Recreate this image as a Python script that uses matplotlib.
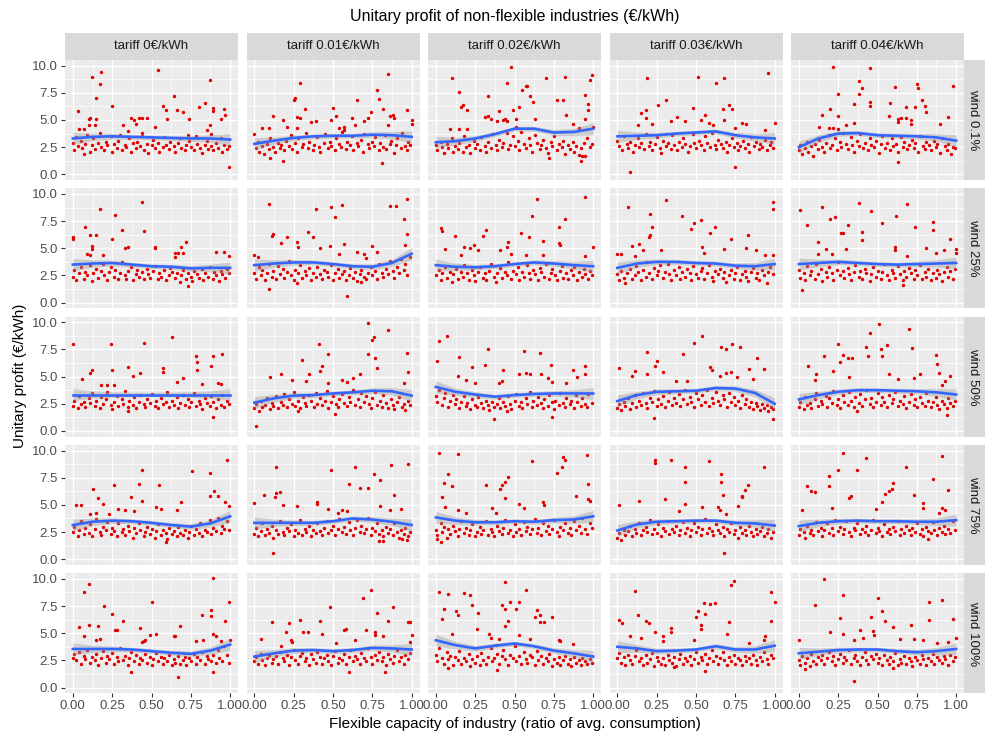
import matplotlib
matplotlib.use('Agg')
import matplotlib.pyplot as plt
import numpy as np

plt.rcParams['font.family'] = ['Liberation Sans', 'DejaVu Sans']

tariffs = ['tariff 0€/kWh', 'tariff 0.01€/kWh', 'tariff 0.02€/kWh', 'tariff 0.03€/kWh', 'tariff 0.04€/kWh']
winds = ['wind 0.1%', 'wind 25%', 'wind 50%', 'wind 75%', 'wind 100%']
x_ticks = [0.0, 0.25, 0.5, 0.75, 1.0]
x_ticklabels = ['0.00', '0.25', '0.50', '0.75', '1.00']
y_ticks = [0.0, 2.5, 5.0, 7.5, 10.0]
y_ticklabels = ['0.0', '2.5', '5.0', '7.5', '10.0']

# smoothed trend at these x positions
smooth_x = [0, 0.125, 0.25, 0.375, 0.5, 0.625, 0.75, 0.875, 1.0]
band_hw = [0.55, 0.34, 0.26, 0.22, 0.21, 0.22, 0.26, 0.34, 0.55]

smooth_w01 = [[3.3, 3.45, 3.5, 3.45, 3.4, 3.35, 3.3, 3.3, 3.2],
              [2.8, 3.1, 3.35, 3.5, 3.55, 3.55, 3.65, 3.6, 3.45],
              [2.95, 3.05, 3.3, 3.7, 4.2, 4.2, 3.85, 3.9, 4.2],
              [3.5, 3.55, 3.6, 3.75, 3.85, 3.95, 3.6, 3.4, 3.3],
              [2.5, 3.3, 3.75, 3.8, 3.6, 3.55, 3.5, 3.4, 3.1]]
smooth_w25 = [[3.5, 3.6, 3.65, 3.5, 3.35, 3.3, 3.15, 3.2, 3.2],
              [3.45, 3.6, 3.7, 3.7, 3.55, 3.35, 3.3, 3.65, 4.5],
              [3.45, 3.3, 3.25, 3.35, 3.55, 3.7, 3.6, 3.45, 3.35],
              [3.2, 3.6, 3.75, 3.75, 3.65, 3.6, 3.4, 3.35, 3.55],
              [3.55, 3.65, 3.75, 3.65, 3.55, 3.5, 3.55, 3.6, 3.65]]
smooth_w50 = [[3.35, 3.35, 3.35, 3.35, 3.35, 3.35, 3.35, 3.35, 3.35],
              [2.6, 3.0, 3.25, 3.3, 3.45, 3.55, 3.7, 3.65, 3.25],
              [4.05, 3.6, 3.35, 3.15, 3.3, 3.4, 3.45, 3.45, 3.45],
              [2.75, 3.3, 3.6, 3.65, 3.7, 3.95, 3.9, 3.5, 2.5],
              [2.9, 3.3, 3.6, 3.75, 3.75, 3.7, 3.65, 3.55, 3.35]]
smooth_w75 = [[3.15, 3.45, 3.55, 3.5, 3.35, 3.15, 3.0, 3.3, 3.95],
              [3.35, 3.35, 3.35, 3.35, 3.5, 3.75, 3.65, 3.45, 3.15],
              [3.85, 3.55, 3.4, 3.4, 3.5, 3.45, 3.6, 3.65, 3.95],
              [2.65, 3.2, 3.45, 3.5, 3.55, 3.55, 3.35, 3.3, 3.1],
              [3.05, 3.35, 3.5, 3.55, 3.5, 3.5, 3.45, 3.45, 3.6]]
smooth_w100 = [[3.55, 3.55, 3.55, 3.5, 3.35, 3.2, 3.1, 3.4, 3.95],
               [2.85, 3.15, 3.4, 3.45, 3.35, 3.45, 3.65, 3.6, 3.5],
               [4.35, 3.9, 3.6, 3.85, 4.05, 3.8, 3.4, 3.15, 2.85],
               [3.75, 3.6, 3.35, 3.4, 3.5, 3.8, 3.5, 3.5, 3.85],
               [3.15, 3.3, 3.45, 3.5, 3.5, 3.35, 3.25, 3.35, 3.55]]

# scatter points, "x:y" with x in 1/100 and y in 1/10
w01_t00 = ("12:90 18:94 17:83 15:70 25:63 03:58 54:96 64:72 57:63 59:59 66:59 60:51 70:57 74:51 80:62 84:66 87:87 89:61 89:58 96:60 "
           "97:55 94:51 99:07 10:51 11:52 15:51 04:42 07:42 10:45 14:45 32:45 37:52 39:50 42:52 44:52 47:52 40:46 35:40 44:38 52:44 "
           "73:36 85:41 87:45 88:37 "
           "00:29 01:22 02:34 03:26 05:31 06:24 07:19 08:28 09:36 11:21 12:27 13:33 14:23 16:29 17:38 18:25 20:22 21:30 22:27 24:35 "
           "25:21 26:28 28:24 29:31 30:36 31:22 33:27 34:25 36:33 37:21 38:29 40:24 41:30 43:26 44:35 45:22 47:28 48:20 50:27 51:32 "
           "52:24 54:29 55:21 57:25 58:34 59:27 61:23 62:30 64:26 65:21 67:29 68:33 69:24 71:22 72:27 74:31 75:25 77:22 78:35 79:28 "
           "81:24 82:20 84:27 85:31 86:23 88:26 89:22 91:29 92:24 94:33 95:21 96:27 98:23 99:26")
w01_t01 = ("29:84 26:70 25:68 32:60 27:53 29:52 27:43 12:54 09:43 05:43 18:50 21:44 36:48 39:49 50:61 52:54 49:50 54:43 57:44 57:41 "
           "65:68 62:52 64:45 70:49 72:52 74:57 78:78 79:69 85:92 82:60 86:54 85:45 88:55 89:52 97:59 100:46 100:50 00:37 10:15 18:12 81:10 "
           "01:24 02:30 03:21 05:26 06:19 08:28 09:23 10:33 12:25 13:21 15:29 16:24 17:27 19:22 20:31 22:26 23:36 24:23 26:29 27:21 "
           "28:33 30:25 31:28 33:38 34:24 35:30 37:22 38:27 40:34 41:25 42:21 44:29 45:37 47:24 48:30 49:26 51:22 52:33 54:28 55:25 "
           "56:39 58:23 59:30 61:27 62:35 63:22 65:29 66:26 68:32 69:21 70:37 72:28 73:24 75:30 76:26 77:34 79:22 80:29 82:25 83:36 "
           "84:23 86:28 87:31 89:20 90:27 91:33 93:24 94:38 96:26 97:22 98:30 99:27")
w01_t02 = ("10:89 15:76 17:64 16:62 20:59 09:42 15:42 20:42 33:72 33:54 35:51 39:49 40:58 45:84 48:99 44:51 43:50 49:59 51:51 53:62 "
           "55:78 57:81 58:81 60:72 62:67 63:51 70:89 77:68 81:68 82:90 83:55 87:46 95:73 95:51 97:59 97:65 98:87 99:91 100:44 91:43 "
           "45:49 51:44 31:53 72:15 92:12 93:17 "
           "00:27 01:22 03:30 04:25 05:20 07:28 08:24 10:33 11:21 12:26 14:23 15:29 17:21 18:35 19:25 21:27 22:20 24:31 25:24 26:28 "
           "28:22 29:34 31:26 32:21 33:30 35:24 36:37 38:27 39:22 40:32 42:25 43:29 45:38 46:23 47:27 49:35 50:26 52:31 53:22 54:39 "
           "56:28 57:24 59:33 60:27 61:21 63:36 64:29 66:23 67:27 68:32 70:24 71:20 73:30 74:26 75:35 77:22 78:28 80:25 81:31 82:19 "
           "84:27 85:23 87:30 88:21 89:26 91:18 92:24 94:29 95:17 96:33 98:25 99:28")
w01_t03 = ("19:89 15:56 18:59 18:52 22:46 13:45 26:64 31:68 34:49 38:53 43:49 48:61 51:90 53:50 56:55 58:47 61:45 63:84 68:89 67:60 "
           "68:50 71:64 73:60 75:43 79:47 82:46 94:41 96:93 100:47 08:02 75:07 "
           "00:31 01:26 03:22 04:35 06:28 07:24 08:30 10:21 11:27 13:33 14:25 15:29 17:23 18:37 20:26 21:30 22:22 24:28 25:34 27:24 "
           "28:20 29:31 31:26 32:29 34:23 35:36 36:27 38:22 39:30 41:25 42:33 43:28 45:21 46:26 48:37 49:29 50:24 52:31 53:27 55:22 "
           "56:35 57:29 59:25 60:38 62:27 63:23 64:32 66:28 67:24 69:30 70:21 71:27 73:33 74:25 76:29 77:22 78:26 80:31 81:24 83:28 "
           "84:21 85:34 87:26 88:30 90:23 91:28 92:25 94:32 95:22 97:27 98:30 99:24")
w01_t04 = ("22:99 45:98 38:86 40:79 38:74 25:74 20:60 15:55 25:54 35:65 45:67 45:63 61:80 75:83 76:79 78:68 80:63 81:57 68:62 74:62 "
           "58:66 57:54 63:51 65:52 68:52 71:50 71:46 98:81 95:53 90:46 63:48 19:43 22:43 30:45 35:47 13:44 25:42 63:11 "
           "00:22 01:27 02:19 04:24 05:30 06:21 08:26 09:17 10:28 12:23 13:32 15:25 16:21 17:29 19:36 20:24 21:27 23:33 24:22 26:30 "
           "27:25 28:38 30:28 31:23 33:34 34:27 35:21 37:31 38:26 39:37 41:24 42:29 44:22 45:33 46:27 48:25 49:31 51:20 52:28 53:35 "
           "55:24 56:29 58:22 59:33 60:26 62:28 63:21 65:34 66:25 67:30 69:23 70:27 72:32 73:24 74:29 76:21 77:35 79:26 80:23 81:30 "
           "83:27 84:22 86:31 87:25 88:28 90:20 91:33 93:26 94:22 95:28 97:19 98:25 99:24")

w25_t00 = ("44:93 17:86 27:81 08:70 31:67 45:66 00:60 00:59 11:62 15:62 25:59 35:51 33:50 12:52 12:49 52:51 52:50 65:46 67:46 70:46 "
           "72:56 69:51 09:45 11:44 19:44 96:47 91:47 99:43 65:42 73:15 "
           "00:24 01:30 02:21 04:27 05:33 07:22 08:28 09:25 11:35 12:20 13:27 15:31 16:23 18:29 19:36 20:25 22:21 23:28 24:33 26:24 "
           "27:30 29:22 30:27 31:37 33:25 34:22 35:29 37:33 38:21 40:26 41:30 42:24 44:28 45:22 47:31 48:26 49:23 51:29 52:34 54:22 "
           "55:27 56:24 58:30 59:21 61:25 62:32 63:28 65:23 66:27 68:19 69:25 70:30 72:22 73:27 75:24 76:20 77:29 79:26 80:23 82:31 "
           "83:21 84:27 86:24 87:33 89:22 90:28 91:25 93:20 94:29 95:26 97:23 98:31 99:27")
w25_t01 = ("09:91 39:86 49:88 56:90 51:79 12:63 11:61 21:60 34:65 37:60 17:55 27:56 28:51 42:50 48:52 57:54 54:45 65:47 75:52 86:89 "
           "90:89 97:95 95:77 97:63 96:53 78:47 00:44 02:42 71:41 70:45 09:13 59:06 27:18 68:19 "
           "00:27 01:22 03:33 04:25 05:30 07:21 08:27 09:36 11:24 12:29 14:22 15:34 16:26 18:31 19:23 21:28 22:38 23:25 25:21 26:30 "
           "28:27 29:35 30:23 32:29 33:25 35:32 36:21 37:27 39:24 40:33 42:26 43:22 44:30 46:28 47:24 49:35 50:21 51:27 53:31 54:23 "
           "56:26 57:29 58:21 60:25 61:32 63:23 64:28 65:20 67:26 68:30 70:24 71:22 72:27 74:33 75:25 77:29 78:22 79:36 81:27 82:24 "
           "84:31 85:26 86:38 88:29 89:23 91:33 92:27 93:40 95:30 96:36 97:25 99:42")
w25_t02 = ("03:69 04:66 12:61 32:67 30:61 54:64 59:60 61:80 64:95 68:57 78:70 78:55 79:53 82:77 95:97 95:43 24:53 18:51 22:50 27:48 "
           "41:48 48:45 57:44 68:44 100:51 06:49 16:44 46:56 45:51 "
           "00:25 02:30 03:21 04:27 06:33 07:23 09:28 10:19 11:26 13:31 14:22 16:28 17:24 18:35 20:27 21:21 23:30 24:25 25:20 27:28 "
           "28:33 30:23 31:27 32:21 34:29 35:36 37:24 38:19 39:27 41:32 42:23 44:28 45:25 46:37 48:22 49:29 51:26 52:33 53:21 55:28 "
           "56:24 58:35 59:27 60:22 62:30 63:26 65:21 66:32 67:28 69:24 70:36 72:22 73:27 74:31 76:25 77:21 79:29 80:34 81:23 83:27 "
           "84:22 86:30 87:25 88:33 90:21 91:28 93:24 94:31 95:26 97:22 98:29 99:25")
w25_t03 = ("07:88 31:94 21:82 41:80 22:70 21:62 20:60 49:73 47:68 53:76 59:64 62:70 72:59 83:62 99:93 99:86 14:54 02:45 00:45 16:48 "
           "28:48 55:46 68:49 88:48 94:44 54:51 82:50 99:44 11:43 09:52 "
           "00:26 01:21 02:29 04:23 05:18 06:27 08:31 09:22 11:25 12:34 13:28 15:21 16:30 18:24 19:37 20:27 22:22 23:32 25:25 26:29 "
           "27:35 29:23 30:28 32:36 33:26 34:21 36:30 37:25 39:33 40:22 41:28 43:24 44:31 46:27 47:21 48:34 50:26 51:23 53:29 54:32 "
           "55:22 57:27 58:35 60:24 61:20 62:29 64:26 65:31 67:23 68:28 69:19 71:25 72:30 74:22 75:27 76:33 78:21 79:26 81:29 82:24 "
           "83:20 85:28 86:32 88:23 89:27 90:21 92:30 93:25 95:18 96:28 97:33 99:26")
w25_t04 = ("01:85 05:71 15:88 20:77 23:79 38:92 31:71 27:64 28:64 12:56 12:45 40:65 40:58 46:84 53:73 62:80 69:91 74:70 85:74 85:67 "
           "96:59 100:49 100:46 17:49 21:45 30:49 61:51 61:48 81:50 87:46 92:48 69:43 02:12 66:16 "
           "00:30 01:23 03:27 04:21 05:34 07:25 08:29 10:22 11:36 12:26 14:31 15:20 17:28 18:24 19:33 21:27 22:21 24:30 25:37 26:25 "
           "28:29 29:23 31:32 32:26 33:21 35:28 36:35 38:24 39:29 40:22 42:31 43:27 45:20 46:26 47:33 49:24 50:29 52:22 53:28 54:36 "
           "56:25 57:21 59:30 60:27 61:23 63:34 64:26 66:21 67:29 68:24 70:32 71:27 73:22 74:30 75:25 77:35 78:22 80:28 81:24 82:31 "
           "84:21 85:27 87:23 88:30 89:26 91:20 92:28 94:33 95:24 96:29 98:22 99:31")

w50_t00 = ("00:80 24:80 45:81 63:86 78:69 89:69 95:71 79:63 79:56 88:60 35:59 57:58 57:54 12:56 25:56 11:53 43:53 06:48 38:51 18:42 "
           "22:42 26:42 70:49 66:45 92:44 94:43 82:43 89:13 35:18 "
           "00:23 01:28 03:21 04:32 05:25 07:27 08:22 10:30 11:26 12:35 14:23 15:28 17:21 18:31 19:25 21:29 22:36 24:24 25:20 26:27 "
           "28:32 29:23 31:29 32:25 33:37 35:22 36:28 38:24 39:31 40:21 42:27 43:33 45:25 46:22 47:29 49:26 50:34 52:23 53:28 54:21 "
           "56:30 57:25 59:27 60:36 61:22 63:28 64:24 66:31 67:21 68:26 70:33 71:24 73:29 74:22 75:27 77:35 78:23 80:28 81:25 82:20 "
           "84:30 85:26 87:23 88:32 89:27 91:21 92:29 94:24 95:33 96:22 98:28 99:25")
w50_t01 = ("72:99 85:93 76:86 75:84 41:80 47:71 72:71 97:72 30:65 77:67 78:58 43:60 42:55 17:52 35:52 33:46 24:47 10:50 67:52 98:54 "
           "63:49 56:47 59:45 47:44 95:44 01:05 51:16 28:18 "
           "00:21 01:25 03:18 04:28 05:22 07:24 08:30 10:20 11:26 12:23 14:32 15:21 17:27 18:24 19:34 21:22 22:29 24:25 25:36 26:23 "
           "28:28 29:21 31:31 32:26 33:23 35:33 36:28 38:22 39:35 40:25 42:30 43:24 45:28 46:37 47:21 49:27 50:32 52:25 53:22 54:29 "
           "56:34 57:26 59:23 60:31 61:27 63:38 64:24 66:29 67:22 68:35 70:27 71:32 73:25 74:21 75:30 77:36 78:24 80:28 81:22 82:33 "
           "84:26 85:21 87:29 88:24 89:20 91:27 92:31 94:22 95:25 96:19 98:28 99:24")
w50_t02 = ("07:87 02:83 01:64 15:68 33:75 56:74 66:72 23:59 31:61 43:56 57:53 73:61 95:60 87:56 90:50 95:52 67:52 71:49 53:52 60:52 "
           "14:51 19:47 25:44 40:44 83:44 42:46 74:45 37:11 74:13 45:18 "
           "00:32 01:27 02:38 04:24 05:30 06:35 08:22 09:28 11:33 12:25 13:29 15:21 16:27 18:32 19:23 20:26 22:20 23:29 25:24 26:22 "
           "27:31 29:26 30:21 32:28 33:24 34:19 36:27 37:22 39:25 40:30 41:21 43:27 44:23 46:32 47:25 48:20 50:28 51:34 53:23 54:27 "
           "55:21 57:30 58:25 60:36 61:22 62:28 64:24 65:31 67:26 68:21 69:29 71:23 72:33 74:27 75:20 76:28 78:24 79:35 81:26 82:22 "
           "83:30 85:25 86:28 88:21 89:33 90:27 92:23 93:30 95:25 96:22 97:34 99:26")
w50_t03 = ("54:87 49:81 66:77 73:80 78:77 69:75 42:71 19:73 89:67 01:58 25:64 24:60 19:52 11:55 29:54 59:59 60:56 69:53 72:54 65:51 "
           "84:57 93:57 09:51 37:46 44:46 76:50 86:48 23:12 99:11 "
           "00:21 01:25 02:19 04:27 05:23 07:30 08:20 09:26 11:33 12:22 14:28 15:24 16:35 18:26 19:21 21:30 22:27 23:37 25:23 26:29 "
           "28:25 29:32 30:22 32:28 33:36 35:24 36:30 37:26 39:34 40:23 42:29 43:38 44:25 46:31 47:27 49:22 50:35 51:29 53:24 54:33 "
           "56:27 57:38 58:23 60:30 61:26 63:36 64:28 65:24 67:33 68:29 70:22 71:35 72:27 74:31 75:24 77:28 78:21 79:33 81:25 82:29 "
           "84:22 85:27 86:20 88:26 89:23 91:19 92:25 93:21 95:24 96:18 98:22 99:20")
w50_t04 = ("51:98 70:94 45:90 56:79 25:80 72:76 52:75 43:77 16:69 28:70 34:67 31:67 26:63 44:69 53:69 87:70 88:62 06:60 11:52 22:55 "
           "10:47 32:50 57:52 63:48 73:49 77:52 89:53 96:51 93:46 91:42 94:15 37:18 "
           "00:22 01:27 03:20 04:31 05:24 07:26 08:21 10:29 11:35 12:23 14:28 15:25 17:32 18:22 19:30 21:26 22:37 24:24 25:29 26:21 "
           "28:33 29:27 31:24 32:36 33:28 35:22 36:31 38:26 39:34 40:23 42:29 43:38 45:25 46:30 47:22 49:27 50:35 52:24 53:31 54:27 "
           "56:22 57:33 59:26 60:29 61:36 63:23 64:28 66:25 67:32 68:21 70:27 71:34 73:24 74:29 75:22 77:31 78:26 80:23 81:35 82:28 "
           "84:22 85:27 87:31 88:24 89:20 91:28 92:25 94:21 95:30 96:26 98:23 99:28")

w75_t00 = ("98:91 44:82 76:81 87:79 42:69 55:68 26:68 13:65 90:63 92:58 87:58 37:57 16:56 19:51 44:54 69:53 29:46 33:45 39:44 02:50 "
           "05:50 53:48 56:46 66:45 97:53 99:49 15:43 11:42 23:42 59:16 "
           "00:25 01:30 03:21 04:27 05:35 07:23 08:29 10:24 11:32 12:21 14:28 15:37 17:25 18:22 19:30 21:27 22:34 24:23 25:29 26:26 "
           "28:21 29:33 31:25 32:28 33:22 35:31 36:26 38:20 39:29 40:24 42:33 43:27 45:21 46:25 47:30 49:23 50:28 52:20 53:26 54:32 "
           "56:22 57:27 59:24 60:19 61:29 63:23 64:26 66:21 67:30 68:24 70:22 71:27 73:20 74:25 75:31 77:22 78:28 80:24 81:33 82:21 "
           "84:27 85:25 87:36 88:23 89:29 91:26 92:38 94:24 95:31 96:28 98:35 99:27")
w75_t01 = ("14:85 49:82 64:85 87:87 98:88 60:69 67:66 72:66 76:78 80:73 89:59 40:53 40:51 06:59 14:61 16:62 13:57 18:50 00:52 27:49 "
           "47:46 56:45 53:43 59:44 80:49 86:45 93:46 12:06 79:17 82:17 94:19 97:18 "
           "00:23 01:29 02:21 04:26 05:33 07:22 08:28 09:24 11:31 12:20 14:27 15:23 16:35 18:25 19:22 21:29 22:26 23:32 25:21 26:27 "
           "28:24 29:36 30:22 32:28 33:25 35:31 36:21 37:27 39:24 40:33 42:26 43:22 44:29 46:35 47:24 49:27 50:31 51:22 53:28 54:37 "
           "56:25 57:30 58:23 60:34 61:27 63:22 64:29 65:36 67:25 68:31 70:24 71:28 72:38 74:22 75:29 77:26 78:33 79:23 81:27 82:21 "
           "84:30 85:24 86:28 88:22 89:33 91:25 92:20 93:27 95:23 96:29 98:21 99:25")
w75_t02 = ("02:98 14:97 08:78 05:70 10:67 04:57 32:68 41:65 42:68 44:71 46:76 61:90 77:79 80:85 81:94 82:91 96:96 97:69 89:58 97:55 "
           "98:54 68:53 69:50 44:56 53:51 56:47 36:47 14:45 19:43 38:43 06:48 03:16 01:19 "
           "00:27 01:22 03:33 04:25 05:30 07:20 08:28 09:23 11:31 12:26 14:21 15:28 16:35 18:24 19:29 21:22 22:27 23:32 25:21 26:25 "
           "28:30 29:23 30:27 32:35 33:22 35:28 36:25 37:21 39:31 40:26 42:23 43:29 44:36 46:24 47:27 49:21 50:32 51:25 53:28 54:22 "
           "56:34 57:26 58:30 60:23 61:28 63:37 64:24 65:29 67:22 68:33 70:26 71:31 72:23 74:28 75:36 77:25 78:21 79:30 81:27 82:33 "
           "84:24 85:29 86:22 88:35 89:27 91:31 92:24 93:38 95:28 96:23 98:33 99:29")
w75_t03 = ("24:91 24:89 34:91 58:90 43:85 43:71 66:78 66:71 93:85 83:68 81:64 79:58 79:57 67:59 64:48 65:45 01:50 14:54 30:55 43:51 "
           "39:44 54:48 69:42 77:49 68:06 "
           "00:20 01:24 02:18 04:27 05:22 07:26 08:31 09:21 11:28 12:24 14:33 15:22 16:27 18:30 19:25 21:36 22:23 23:28 25:24 26:32 "
           "28:21 29:29 30:26 32:35 33:23 35:28 36:25 37:31 39:22 40:27 42:34 43:24 44:29 46:21 47:27 49:33 50:25 51:30 53:22 54:28 "
           "56:37 57:24 58:29 60:26 61:22 63:32 64:27 65:24 67:30 68:21 70:28 71:25 72:33 74:23 75:27 77:20 78:30 79:24 81:27 82:22 "
           "84:31 85:25 86:21 88:28 89:23 91:26 92:30 93:21 95:24 96:28 98:20 99:25")
w75_t04 = ("28:98 43:93 19:77 25:82 37:82 68:85 91:95 85:74 95:64 05:67 08:63 10:62 19:67 33:58 32:56 60:70 59:65 57:63 55:60 73:59 "
           "79:52 93:45 89:43 02:45 21:47 53:53 49:46 79:47 91:47 82:19 "
           "00:22 01:28 03:25 04:20 05:31 07:24 08:27 09:22 11:34 12:26 14:29 15:21 16:27 18:33 19:24 21:29 22:22 23:36 25:26 26:30 "
           "28:23 29:28 30:35 32:25 33:21 35:29 36:27 37:33 39:23 40:28 42:25 43:31 44:22 46:27 47:36 49:24 50:29 51:26 53:21 54:32 "
           "56:25 57:28 58:23 60:30 61:26 63:35 64:22 65:28 67:24 68:31 70:27 71:22 72:29 74:25 75:33 77:23 78:28 79:21 81:30 82:26 "
           "84:24 85:34 86:27 88:22 89:29 91:25 92:31 93:23 95:28 96:24 98:35 99:27")

w100_t00 = ("10:95 07:88 89:101 50:79 99:79 20:75 25:68 88:66 82:67 88:71 32:61 97:61 10:58 04:56 16:57 68:57 43:55 27:53 28:53 07:47 "
            "49:48 53:49 46:44 45:43 44:42 83:44 89:49 91:47 94:43 100:44 17:45 15:44 78:43 64:47 65:47 37:14 67:10 89:14 "
            "00:27 01:31 02:25 04:33 05:22 07:29 08:26 09:35 11:23 12:28 14:25 15:31 16:21 18:27 19:34 21:23 22:29 23:26 25:32 26:22 "
            "28:28 29:24 30:36 32:25 33:29 35:21 36:27 37:33 39:24 40:30 42:22 43:27 44:25 46:31 47:23 49:28 50:21 51:26 53:32 54:24 "
            "56:28 57:22 58:27 60:24 61:30 63:21 64:26 65:23 67:29 68:22 70:25 71:28 72:21 74:27 75:24 77:31 78:22 79:28 81:25 82:33 "
            "84:22 85:29 86:26 88:24 89:30 91:23 92:35 93:27 95:24 96:38 98:30 99:23")
w100_t01 = ("74:90 69:82 88:74 78:69 48:74 11:60 29:62 22:59 42:61 85:61 71:53 20:51 31:51 34:51 43:49 57:53 58:54 77:51 77:48 98:60 "
            "99:60 100:48 99:42 04:45 23:44 24:42 17:38 52:41 64:44 82:47 60:14 83:14 "
            "00:24 01:28 02:22 04:31 05:25 07:21 08:27 09:30 11:23 12:26 14:29 15:22 16:33 18:27 19:24 21:30 22:21 23:28 25:35 26:25 "
            "28:22 29:29 30:32 32:24 33:27 35:21 36:31 37:26 39:23 40:33 42:28 43:22 44:27 46:30 47:24 49:21 50:29 51:34 53:23 54:27 "
            "56:25 57:31 58:22 60:28 61:35 63:24 64:29 65:26 67:22 68:32 70:27 71:24 72:36 74:28 75:22 77:30 78:25 79:33 81:24 82:28 "
            "84:21 85:31 86:26 88:23 89:29 91:35 92:24 93:28 95:22 96:30 98:26 99:32")
w100_t02 = ("44:97 57:90 02:88 08:86 18:87 22:85 23:76 05:72 13:70 14:67 27:69 04:63 47:79 53:79 42:76 44:72 51:72 46:61 44:57 64:71 "
            "66:67 66:60 74:65 63:65 69:60 10:49 26:54 34:49 35:46 40:45 38:39 53:48 60:45 78:44 79:43 87:40 39:16 08:18 "
            "00:30 01:24 02:36 04:27 05:22 07:33 08:26 09:29 11:21 12:28 14:25 15:34 16:22 18:27 19:24 21:31 22:20 23:26 25:23 26:29 "
            "28:21 29:32 30:25 32:22 33:28 35:36 36:24 37:27 39:31 40:22 42:29 43:35 44:26 46:21 47:30 49:27 50:38 51:24 53:29 54:22 "
            "56:33 57:26 58:23 60:30 61:28 63:21 64:34 65:25 67:29 68:22 70:27 71:24 72:31 74:20 75:26 77:23 78:28 79:21 81:25 82:29 "
            "84:22 85:26 86:20 88:28 89:23 91:25 92:21 93:27 95:24 96:22 98:26 99:23")
w100_t03 = ("74:98 72:94 11:89 13:67 55:78 62:78 59:77 51:70 50:65 56:68 53:58 53:54 71:60 18:61 20:59 01:62 03:59 34:55 34:51 24:51 "
            "98:88 100:79 98:61 29:43 29:47 08:47 15:46 49:44 70:49 84:41 94:47 93:44 56:15 36:19 "
            "00:27 01:32 02:23 04:28 05:21 07:30 08:25 09:22 11:29 12:35 14:24 15:27 16:21 18:30 19:23 21:26 22:32 23:20 25:28 26:24 "
            "28:22 29:27 30:21 32:30 33:25 35:23 36:28 37:20 39:26 40:31 42:22 43:27 44:24 46:29 47:21 49:26 50:33 51:23 53:28 54:25 "
            "56:31 57:22 58:27 60:35 61:24 63:29 64:22 65:27 67:33 68:25 70:21 71:28 72:24 74:30 75:22 77:27 78:25 79:21 81:29 82:24 "
            "84:27 85:22 86:30 88:25 89:21 91:28 92:24 93:33 95:26 96:22 98:30 99:27")
w100_t04 = ("16:100 10:76 28:85 50:82 26:64 53:70 55:61 60:56 83:79 91:81 83:62 98:63 46:65 47:52 20:51 28:49 39:53 48:48 71:58 35:44 "
            "41:46 64:45 73:45 88:41 100:46 95:42 79:44 00:44 35:06 60:18 04:17 "
            "00:25 01:21 02:29 04:23 05:27 07:20 08:31 09:24 11:22 12:28 14:25 15:30 16:22 18:27 19:33 21:24 22:29 23:21 25:26 26:31 "
            "28:23 29:28 30:25 32:35 33:22 35:27 36:30 37:24 39:21 40:28 42:33 43:25 44:22 46:29 47:26 49:31 50:23 51:27 53:21 54:30 "
            "56:25 57:22 58:28 60:24 61:32 63:21 64:26 65:23 67:29 68:22 70:27 71:24 72:20 74:28 75:25 77:22 78:30 79:26 81:21 82:27 "
            "84:24 85:31 86:22 88:28 89:25 91:23 92:29 93:26 95:21 96:30 98:24 99:28")

points = [[w01_t00, w01_t01, w01_t02, w01_t03, w01_t04],
          [w25_t00, w25_t01, w25_t02, w25_t03, w25_t04],
          [w50_t00, w50_t01, w50_t02, w50_t03, w50_t04],
          [w75_t00, w75_t01, w75_t02, w75_t03, w75_t04],
          [w100_t00, w100_t01, w100_t02, w100_t03, w100_t04]]
smooths = [smooth_w01, smooth_w25, smooth_w50, smooth_w75, smooth_w100]


def parse(s):
    xy = np.array([t.split(':') for t in s.split()], dtype=float)
    return xy[:, 0] / 100, xy[:, 1] / 10


W, H = 985, 738
fig = plt.figure(figsize=(W / 100, H / 100), dpi=100)
fig.patch.set_facecolor('white')

def px_axes(left, top, w, h):
    return fig.add_axes([left / W, 1 - (top + h) / H, w / W, h / H])

panel_w, panel_h = 173, 120
col_left = [65 + 181.5 * c for c in range(5)]
row_top = [60 + 128.3 * r for r in range(5)]

for r in range(5):
    for c in range(5):
        ax = px_axes(col_left[c], row_top[r], panel_w, panel_h)
        ax.set_facecolor('#EBEBEB')
        for s in ax.spines.values():
            s.set_visible(False)
        ax.set_xlim(-0.05, 1.05)
        ax.set_ylim(-0.52, 10.52)
        ax.set_xticks(x_ticks)
        ax.set_yticks(y_ticks)
        ax.set_xticks([0.125, 0.375, 0.625, 0.875], minor=True)
        ax.set_yticks([1.25, 3.75, 6.25, 8.75], minor=True)
        ax.grid(which='major', color='white', linewidth=1.0)
        ax.grid(which='minor', color='white', linewidth=0.5)
        ax.set_axisbelow(True)
        ax.tick_params(which='minor', length=0)
        ax.tick_params(which='major', length=3, width=0.8, color='#333333',
                       labelsize=9.5, labelcolor='#4D4D4D', pad=2)
        if c == 0:
            ax.set_yticklabels(y_ticklabels)
        else:
            ax.tick_params(axis='y', which='major', length=0, labelleft=False)
        if r == 4:
            ax.set_xticklabels(x_ticklabels)
        else:
            ax.tick_params(axis='x', which='major', length=0, labelbottom=False)

        x, y = parse(points[r][c])
        ax.scatter(x, y, s=6, color='#E00000', linewidths=0, zorder=2)
        sm = np.array(smooths[r][c])
        hw = np.array(band_hw)
        ax.fill_between(smooth_x, sm - hw, sm + hw, color='#999999', alpha=0.4,
                        linewidth=0, zorder=3)
        ax.plot(smooth_x, sm, color='#3366FF', linewidth=1.9, zorder=4)

    # right strip
    sax = px_axes(964, row_top[r], 21, panel_h)
    sax.set_facecolor('#D9D9D9')
    sax.set_xticks([])
    sax.set_yticks([])
    for s in sax.spines.values():
        s.set_visible(False)
    sax.text(0.45, 0.5, winds[r], rotation=-90, ha='center', va='center',
             fontsize=9.5, color='#1A1A1A', transform=sax.transAxes)

for c in range(5):
    tax = px_axes(col_left[c], 32.5, panel_w, 27.5)
    tax.set_facecolor('#D9D9D9')
    tax.set_xticks([])
    tax.set_yticks([])
    for s in tax.spines.values():
        s.set_visible(False)
    tax.text(0.5, 0.5, tariffs[c], ha='center', va='center', fontsize=9.5,
             color='#1A1A1A', transform=tax.transAxes)

fig.text(514.5 / W, 1 - 16 / H, 'Unitary profit of non-flexible industries (€/kWh)',
         ha='center', va='center', fontsize=11.5, color='black')
fig.text(514.5 / W, 1 - 724 / H, 'Flexible capacity of industry (ratio of avg. consumption)',
         ha='center', va='center', fontsize=11, color='black')
fig.text(20 / W, 1 - 376 / H, 'Unitary profit (€/kWh)', rotation=90,
         ha='center', va='center', fontsize=11, color='black')

fig.savefig('out.png', dpi=100)
